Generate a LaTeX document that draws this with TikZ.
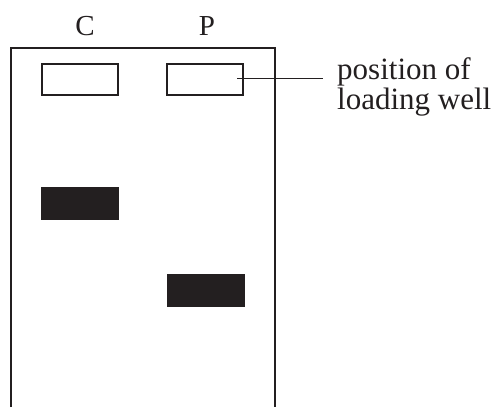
\documentclass[tikz,border=0pt]{standalone}
\usepackage{fontspec}
\setmainfont{Liberation Serif}
\definecolor{ink}{HTML}{231F20}
\begin{document}
\begin{tikzpicture}[x=1pt,y=-1pt,
  gel/.style={draw=ink,line width=2.4pt},
  well/.style={draw=ink,line width=2.2pt,fill=white},
  band/.style={fill=ink,draw=none},
  lead/.style={draw=ink,line width=1pt},
  lane/.style={font=\fontsize{29}{29}\selectfont,text=ink,inner sep=0pt,anchor=base},
  lbl/.style={font=\fontsize{31}{29}\selectfont,text=ink,inner sep=0pt,anchor=base west}]
\useasboundingbox (0,0) rectangle (494,407);
% gel outline (open at the bottom)
\draw[gel] (11,407) -- (11,48) -- (275,48) -- (275,407);
% lane labels
\node[lane] (C) at (85,35) {C};
\node[lane] (P) at (207,35) {P};
% loading wells
\draw[well] (42,64) rectangle (118,95);
\draw[well] (167,64) rectangle (243,95);
% bands
\fill[band] (41,187) rectangle (119,220);
\fill[band] (167,274) rectangle (245,307);
% label
\node[lbl] (l1) at (337,79) {position of};
\node[lbl] (l2) at (337,109) {loading well};
\coordinate (ld) at (237,78);
\draw[lead] (ld) -- ([xshift=-14pt]ld -| l1.west);
\end{tikzpicture}
\end{document}
